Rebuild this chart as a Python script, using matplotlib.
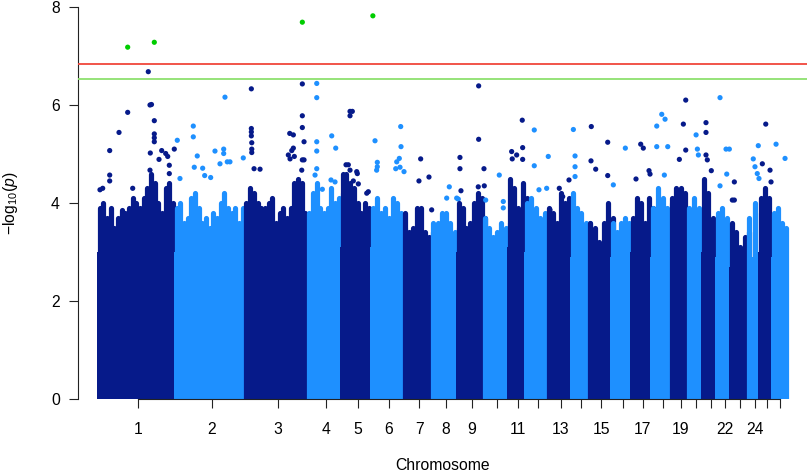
import numpy as np
import matplotlib
matplotlib.use("Agg")
import matplotlib.pyplot as plt

plt.rcParams['font.family'] = ['Liberation Sans', 'DejaVu Sans']
plt.rcParams['mathtext.fontset'] = 'custom'
plt.rcParams['mathtext.rm'] = 'Liberation Sans'
plt.rcParams['mathtext.it'] = 'Liberation Sans:italic'

# chromosome lengths (Mb)
chrom_len_mb = [275.4, 248.9, 224.0, 119.3, 107.9, 117.0, 100.1, 90.7, 94.7, 86.4,
                62.2, 79.8, 83.1, 62.7, 80.9, 71.7, 72.3, 68.6, 60.5, 51.2,
                50.1, 50.8, 62.3, 42.0, 45.4, 44.0]
chrom_labels = ['1', '2', '3', '4', '5', '6', '7', '8', '9', '', '11', '', '13', '',
                '15', '', '17', '', '19', '', '', '22', '', '24', '', '']

# -log10(p) up to which the SNP cloud is solid
body_logp = [3.0, 3.0, 3.1, 3.0, 3.1, 3.1, 2.9, 2.8, 3.0, 2.9, 3.1, 3.0, 3.0, 2.9,
             2.8, 2.9, 3.0, 2.9, 3.1, 2.9, 3.0, 2.9, 2.7, 2.9, 3.0, 2.9]

# tops of the dense SNP columns, evenly along each chromosome
ridge_logp = [
    [3.9, 4.0, 3.7, 3.9, 3.5, 3.7, 3.85, 3.8, 3.9, 4.1, 4.0, 3.9, 4.1, 4.3, 4.6, 4.4,
     4.0, 3.8, 4.3, 4.4, 4.0, 3.6],
    [3.9, 4.0, 3.6, 3.7, 4.1, 4.2, 3.9, 3.6, 3.7, 3.5, 3.8, 3.7, 4.0, 4.2, 3.9, 3.8,
     3.9, 3.6, 3.9, 3.8],
    [4.0, 4.3, 4.2, 4.0, 3.9, 3.9, 4.0, 4.1, 3.6, 3.8, 3.9, 3.7, 3.9, 4.4, 4.5, 4.4,
     3.8, 3.7],
    [3.8, 4.2, 4.4, 3.9, 3.8, 3.9, 4.3, 4.0, 4.1, 4.2],
    [4.6, 4.6, 4.4, 4.3, 4.0, 3.8, 4.0, 3.9, 3.6],
    [3.9, 4.1, 3.8, 3.9, 3.7, 4.1, 4.0, 3.8, 3.5],
    [3.8, 3.4, 3.5, 3.9, 3.9, 3.4, 3.3, 3.4],
    [3.6, 3.6, 3.8, 3.8, 3.6, 3.4, 3.5],
    [4.0, 3.9, 3.5, 3.6, 4.0, 4.2, 4.1, 3.7],
    [3.7, 3.5, 3.3, 3.4, 3.6, 3.5, 3.6],
    [4.5, 4.3, 3.9, 4.4, 4.1],
    [4.0, 4.1, 3.9, 3.7, 3.8, 3.7],
    [3.9, 3.8, 3.6, 4.2, 4.0, 4.1, 3.7],
    [4.2, 3.9, 3.8, 3.6, 3.6],
    [3.6, 3.5, 3.2, 3.6, 4.0, 3.7],
    [3.6, 3.4, 3.6, 3.7, 3.6, 3.4],
    [3.7, 4.1, 4.0, 3.6, 4.1, 3.9],
    [3.9, 4.3, 4.1, 3.9, 4.0],
    [4.1, 4.3, 4.3, 4.2, 3.8],
    [3.9, 4.1, 3.9, 3.8],
    [4.5, 4.2, 3.7, 3.5],
    [3.8, 3.9, 3.7, 3.4],
    [3.6, 3.4, 3.1, 3.3, 3.4],
    [3.7, 4.0, 3.8],
    [4.1, 4.3, 4.1, 3.6],
    [3.8, 3.9, 3.6, 3.5],
]

# isolated SNPs above the cloud: position in chromosome (Mb) and -log10(p)
hit_pos_mb = [
    [100.0, 195.1, 173.6, 100.0, 179.7, 185.0, 195.1, 195.1, 195.1, 195.1, 69.0, 35.7, 35.7,
     35.7, 180.8, 179.7, 211.9, 221.5, 235.8, 243.0, 248.7, 248.7, 266.5, 1.0, 10.7, 117.9],
    [59.0, 59.0, 172.2, 1.8, 73.2, 136.5, 167.6, 167.6, 180.4, 190.0, 154.4, 237.6, 92.5,
     99.7, 62.5, 11.4, 121.1],
    [199.7, 17.5, 17.5, 17.5, 17.5, 19.0, 19.0, 19.0, 27.2, 48.6, 154.7, 167.6, 167.6, 149.7,
     155.8, 161.9, 171.1, 199.7, 199.7, 199.7, 205.8, 199.7, 205.8, 197.6],
    [27.2, 27.2, 27.2, 27.2, 27.2, 21.1, 80.7, 95.0, 78.2, 92.5, 47.2],
    [26.8, 35.0, 26.8, 12.5, 20.7, 26.8, 50.7, 52.9, 38.6, 56.5, 86.5, 92.2],
    [0.5, 8.2, 16.4, 16.4, 14.0, 100.0, 101.1, 95.0, 85.8, 97.5, 82.2, 111.8],
    [54.3, 84.0, 48.2, 93.6],
    [56.5, 47.2, 82.9, 88.6],
    [70.7, 70.7, 89.7, 3.9, 3.9, 7.5, 69.3, 90.8],
    [49.7, 64.0, 64.0, 1.1],
    [45.4, 46.8, 7.5, 9.6, 25.4, 46.8],
    [26.1, 26.1, 76.1, 42.9, 70.4],
    [70.4, 35.7, 47.9, 2.5],
    [2.9, 8.9, 8.9, 8.9],
    [4.3, 3.2, 20.0, 62.9, 62.9],
    [45.0, 2.1],
    [28.2, 37.5, 11.4, 57.9, 61.5],
    [31.1, 42.9, 13.2, 13.2, 52.5, 40.4],
    [48.2, 39.7, 48.2, 25.4],
    [24.7, 29.3, 32.9],
    [8.9, 8.9, 8.9, 13.6, 27.9],
    [8.9, 30.4, 42.2, 32.9, 8.9],
    [9.3, 9.3, 2.1],
    [32.5, 14.6, 20.7, 28.9, 35.0],
    [17.2, 5.0, 32.5, 36.1],
    [8.6, 40.7],
]
hit_logp = [
    [7.18, 7.28, 6.68, 5.85, 6.0, 6.01, 5.68, 5.41, 5.33, 5.25, 5.44, 5.07, 4.57,
     4.45, 5.02, 4.67, 4.89, 5.07, 5.01, 4.95, 4.77, 4.6, 5.1, 4.27, 4.3, 4.3],
    [5.57, 5.35, 6.16, 5.28, 4.96, 5.06, 5.1, 5.01, 4.84, 4.84, 4.8, 4.92, 4.71,
     4.56, 4.73, 4.5, 4.52],
    [7.69, 6.33, 5.52, 5.45, 5.37, 5.23, 5.1, 5.03, 4.7, 4.69, 5.42, 5.39, 5.12, 4.98,
     4.9, 5.07, 4.95, 6.43, 5.78, 5.54, 5.25, 4.88, 4.88, 4.67],
    [6.44, 6.15, 5.25, 5.06, 4.7, 4.57, 5.37, 5.12, 4.47, 4.43, 4.28],
    [5.87, 5.87, 5.78, 4.78, 4.78, 4.67, 4.64, 4.6, 4.45, 4.39, 4.2, 4.23],
    [7.82, 5.27, 4.83, 4.74, 4.67, 5.56, 5.15, 4.91, 4.84, 4.73, 4.7, 4.64],
    [4.9, 4.53, 4.45, 3.86],
    [4.33, 4.1, 4.1, 4.08],
    [6.39, 5.3, 4.7, 4.93, 4.7, 4.25, 4.33, 4.35],
    [4.57, 4.03, 3.9, 4.06],
    [5.69, 5.13, 5.05, 4.9, 4.98, 4.89],
    [5.49, 4.76, 4.95, 4.27, 4.3],
    [4.47, 4.3, 4.13, 3.86],
    [5.5, 4.96, 4.74, 4.54],
    [5.56, 4.86, 4.69, 5.24, 4.56],
    [5.12, 4.37],
    [5.2, 5.12, 4.49, 4.66, 4.59],
    [5.81, 5.71, 5.57, 5.15, 5.15, 4.57],
    [6.1, 5.61, 5.08, 4.89],
    [5.39, 5.1, 4.98],
    [5.64, 5.44, 4.98, 4.88, 4.66],
    [6.15, 5.1, 5.1, 4.59, 4.35],
    [4.43, 4.06, 4.06],
    [5.17, 4.9, 4.74, 4.6, 4.5],
    [5.61, 4.8, 4.67, 4.43],
    [5.2, 4.91],
]

suggestive = 6.53
genomewide = 6.83

DARK = '#061a8a'
LIGHT = '#1e90ff'
HIT = '#00cd00'
AXC = '#222222'

lens = np.array(chrom_len_mb)
starts = np.concatenate([[0.0], np.cumsum(lens)[:-1]])
mids = starts + lens / 2

fig = plt.figure(figsize=(8.09, 4.74), dpi=100)
ax = fig.add_axes([78 / 809, 75 / 474, 729 / 809, 399 / 474])

mb_per_px = 3.573
dot_pt = 5.2 * 72 / 100
pad = 2.6 * mb_per_px

for i in range(len(chrom_len_mb)):
    col = DARK if i % 2 == 0 else LIGHT
    s0 = starts[i]
    ax.bar(s0 + lens[i] / 2, body_logp[i], width=lens[i] + 2 * pad,
           color=col, linewidth=0, zorder=2)
    xs = s0 + np.linspace(0, lens[i], len(ridge_logp[i]))
    lc = ax.vlines(xs, 0, ridge_logp[i], colors=col, linewidth=dot_pt, zorder=2)
    lc.set_capstyle('round')
    hv = np.array(hit_logp[i])
    cols = [HIT if v > genomewide else col for v in hv]
    ax.scatter(s0 + np.array(hit_pos_mb[i]), hv, s=dot_pt ** 2, c=cols,
               linewidths=0, zorder=2)

ax.axhline(genomewide, color='#f0463c', lw=1.3, zorder=3)
ax.axhline(suggestive, color='#8de06e', lw=1.3, zorder=3)

ax.set_xlim((78 - 99.7) * mb_per_px, (807 - 99.7) * mb_per_px)
ax.set_ylim(0, 399 / 49)

for s in ['top', 'right']:
    ax.spines[s].set_visible(False)
ax.spines['left'].set_bounds(0, 8)
ax.spines['bottom'].set_bounds(mids[0], mids[-1])
for s in ['left', 'bottom']:
    ax.spines[s].set_color(AXC)
    ax.spines[s].set_linewidth(0.8)

ax.set_xticks(mids)
ax.set_xticklabels(chrom_labels)
ax.set_yticks([0, 2, 4, 6, 8])
ax.tick_params(axis='both', direction='out', length=6.5, width=0.8, color=AXC,
               labelsize=11.3, labelcolor='black')
ax.tick_params(axis='x', pad=10)
ax.tick_params(axis='y', pad=6.5)

fig.text(442.5 / 809, 1 - 466 / 474, 'Chromosome', ha='center', va='center', fontsize=11.3)
fig.text(11 / 809, 1 - 203 / 474, r'$-\mathrm{log}_{10}(\mathit{p})$', rotation=90,
         ha='center', va='center', fontsize=11.3)

fig.savefig('out.png', dpi=100)
